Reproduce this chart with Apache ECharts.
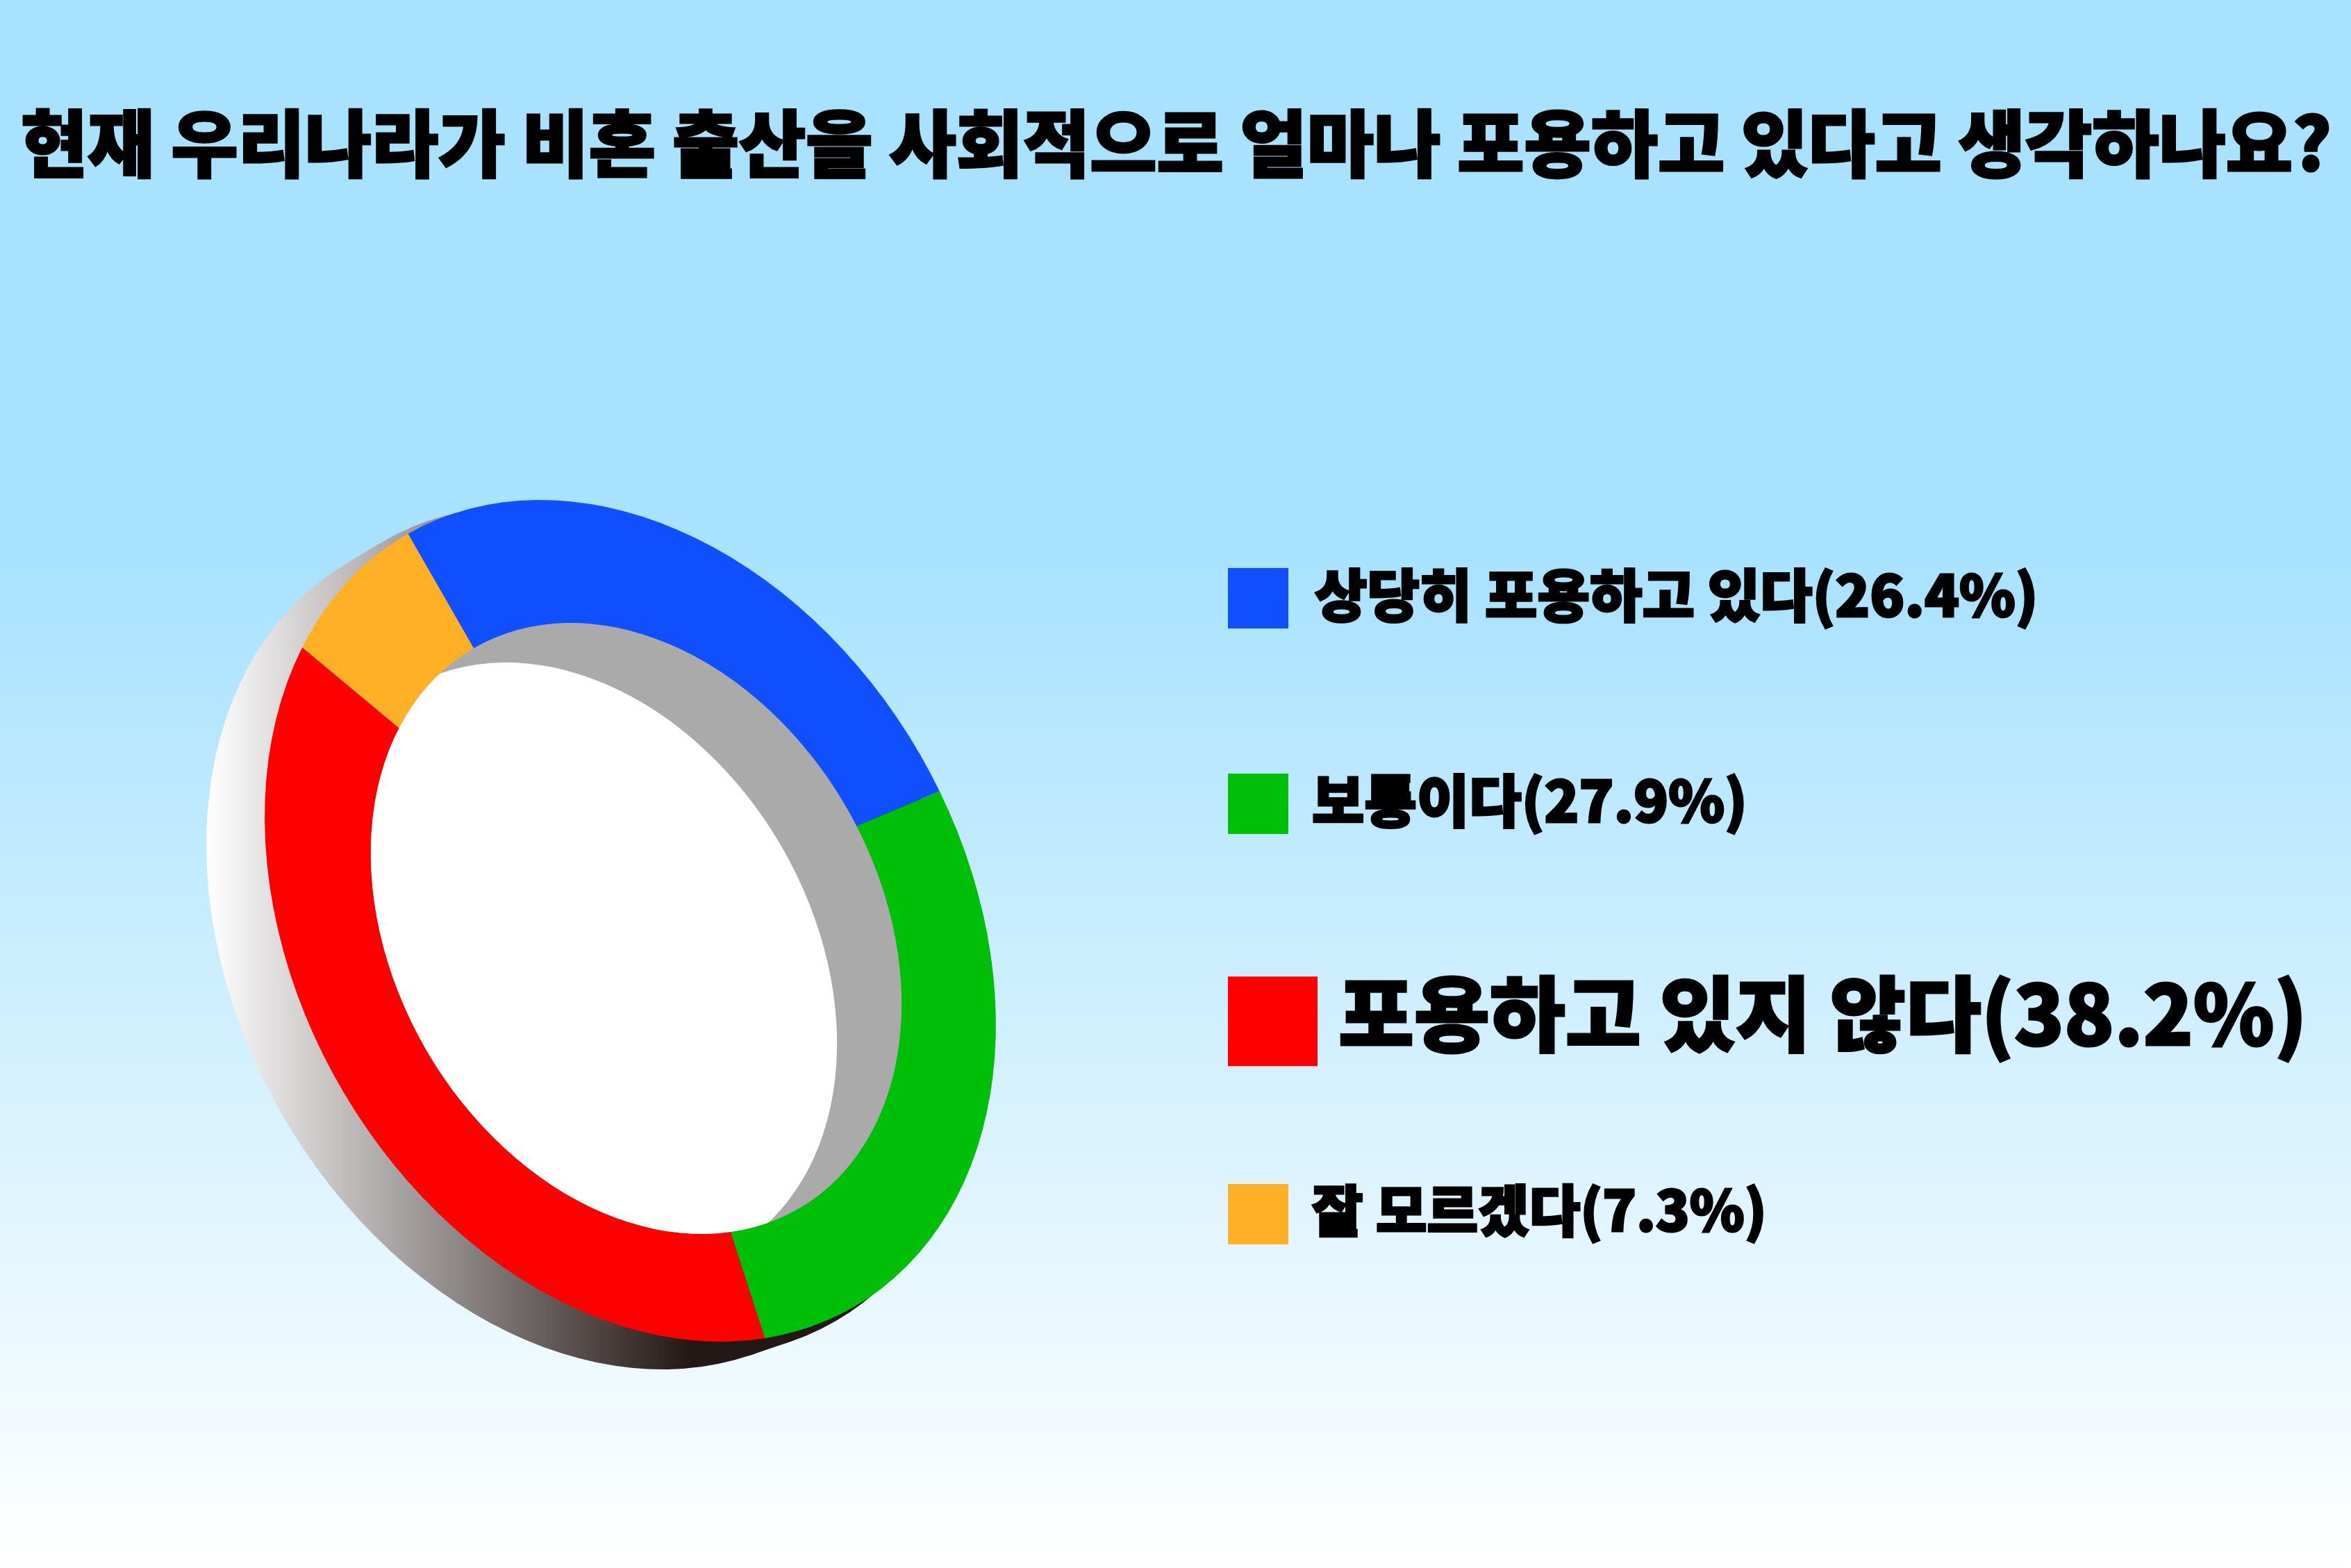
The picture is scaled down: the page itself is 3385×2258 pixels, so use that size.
<!DOCTYPE html>
<html><head><meta charset="utf-8">
<style>html,body{margin:0;padding:0;width:3385px;height:2258px;overflow:hidden}#c{width:3385px;height:2258px}</style>
<script src="https://cdn.jsdelivr.net/npm/echarts@6/dist/echarts.min.js"></script>
</head><body><div id="c"></div>
<script>
const titleText = '현재 우리나라가 비혼 출산을 사회적으로 얼마나 포용하고 있다고 생각하나요?';
const categories = ['상당히 포용하고 있다', '보통이다', '포용하고 있지 않다', '잘 모르겠다'];
const shares = [26.4, 27.9, 38.2, 7.3];
const colors = ['#104FFF', '#00BF08', '#FF0000', '#FFB025'];
const FONT = '"Noto Sans CJK KR"';

// pie geometry: a disc seen at an angle
const C = {x: 907.5, y: 1326}, A = 642.6, B = 481.1, TILT = 59.9 * Math.PI / 180;
const START = -179.7 * Math.PI / 180;
const BACK = {dx: -84, dy: 40, k: 1}, RIM = {dx: -30, dy: 15, k: 1.01};
const HOLE = {dx: 8.5, dy: 11, k: 0.726}, WALL = {dx: -93, dy: 57};
const tf = (dx, dy) => ({x: C.x + dx, y: C.y + dy, rotation: -TILT, scaleX: 1, scaleY: B / A});
const toLocal = (dx, dy) => [dx * Math.cos(TILT) + dy * Math.sin(TILT), (-dx * Math.sin(TILT) + dy * Math.cos(TILT)) * A / B];
const total = shares.reduce((s, v) => s + v, 0);

function wedge(i) {
  return (params, api) => {
    const before = shares.slice(0, i).reduce((s, v) => s + v, 0);
    const a0 = START + before / total * 2 * Math.PI;
    const a1 = a0 + api.value(0) / total * 2 * Math.PI;
    return {type: 'sector', ...tf(0, 0),
      shape: {cx: 0, cy: 0, r: A, r0: 0, startAngle: a0, endAngle: a1, clockwise: true},
      style: {fill: colors[i]}};
  };
}
function sideWall() {
  const g = [Math.cos(TILT), -Math.sin(TILT) * B / A], n = g[0] * g[0] + g[1] * g[1];
  const s1 = 297 - C.x, s2 = 995 - C.x;
  const fill = {type: 'linear', global: true,
    x: s1 * g[0] / n, y: s1 * g[1] / n, x2: s2 * g[0] / n, y2: s2 * g[1] / n,
    colorStops: [{offset: 0, color: '#FFFFFF'}, {offset: 1, color: '#231815'}]};
  const c1 = toLocal(RIM.dx, RIM.dy), c2 = toLocal(BACK.dx, BACK.dy);
  const r1 = A * RIM.k, r2 = A * BACK.k;
  const d = Math.hypot(c2[0] - c1[0], c2[1] - c1[1]);
  const dir = Math.atan2(c2[1] - c1[1], c2[0] - c1[0]), al = Math.acos((r1 - r2) / d);
  const at = (c, r, t) => [c[0] + r * Math.cos(t), c[1] + r * Math.sin(t)];
  const hull = [at(c1, r1, dir + al), at(c2, r2, dir + al), at(c2, r2, dir - al), at(c1, r1, dir - al)];
  return {type: 'group', children: [
    {type: 'polygon', ...tf(0, 0), shape: {points: hull}, style: {fill}},
    {type: 'circle', ...tf(0, 0), shape: {cx: c1[0], cy: c1[1], r: r1}, style: {fill}},
    {type: 'circle', ...tf(0, 0), shape: {cx: c2[0], cy: c2[1], r: r2}, style: {fill}}
  ]};
}
function holeInner() {
  const r = A * HOLE.k, o = toLocal(WALL.dx, WALL.dy);
  return {type: 'group', children: [
    {type: 'circle', ...tf(HOLE.dx, HOLE.dy), shape: {cx: 0, cy: 0, r}, style: {fill: '#AAAAAA'}},
    {type: 'circle', ...tf(HOLE.dx, HOLE.dy), shape: {cx: o[0], cy: o[1], r}, style: {fill: '#FFFFFF'},
      clipPath: {type: 'circle', shape: {cx: 0, cy: 0, r}}}
  ]};
}
const names = categories.map((c, i) => `${c}(${shares[i]}%)`);
const legendLayout = [
  {top: 819, size: 87, font: 82, gap: 33, lift: 5},
  {top: 1115, size: 87, font: 82, gap: 29, lift: 5},
  {top: 1410, size: 129, font: 118.4, gap: 25, lift: 11},
  {top: 1707, size: 87, font: 80, gap: 29, lift: 6}
];
const chart = echarts.init(document.getElementById('c'), null, {renderer: 'canvas'});
chart.setOption({
  animation: false,
  backgroundColor: {type: 'linear', x: 0, y: 0, x2: 0, y2: 1, colorStops: [
    {offset: 0, color: '#A9E2FF'}, {offset: 0.36, color: '#A9E2FF'}, {offset: 1, color: '#FFFFFF'}]},
  title: {text: titleText, left: 30, top: 154, padding: 0,
    textStyle: {fontFamily: FONT, fontWeight: 900, fontSize: 104.6, color: '#000', textBorderColor: '#000', textBorderWidth: 3}},
  legend: names.map((n, i) => {
    const L = legendLayout[i];
    const txt = {fontFamily: FONT, fontWeight: 900, fontSize: L.font, color: '#000', textBorderColor: '#000', textBorderWidth: 3};
    return {
      data: [n], left: 1768, top: L.top - L.lift, padding: 0, orient: 'vertical',
      icon: 'rect', itemWidth: L.size, itemHeight: L.size, selectedMode: false,
      formatter: s => `{t|${s}}`,
      textStyle: {...txt, rich: {t: {...txt, padding: [0, 0, L.lift * 2, L.gap]}}}
    };
  }),
  series: [
    {type: 'custom', name: 'side', coordinateSystem: 'none', silent: true, z: 1, data: [[0]], renderItem: sideWall},
    ...names.map((n, i) => ({type: 'custom', name: n, coordinateSystem: 'none', z: 2,
      itemStyle: {color: colors[i]}, data: [[shares[i]]], renderItem: wedge(i)})),
    {type: 'custom', name: 'hole', coordinateSystem: 'none', silent: true, z: 3, data: [[0]], renderItem: holeInner}
  ]
});
</script></body></html>
